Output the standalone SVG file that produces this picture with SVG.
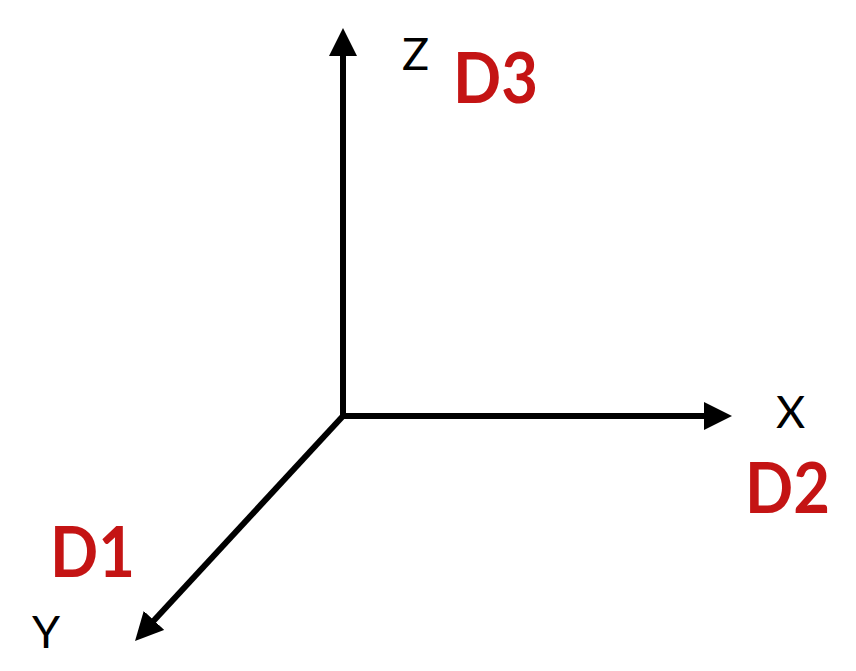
<svg xmlns="http://www.w3.org/2000/svg" width="856" height="671" viewBox="0 0 856 671">
<defs>
<style>
.axis{fill:none;stroke:#000;stroke-width:6}
.lbl{font-family:Lato,"Liberation Sans",sans-serif;font-size:45px;fill:#000}
.dim{font-family:Lato,"Liberation Sans",sans-serif;font-size:70px;font-weight:bold;fill:#c41414}
</style>
<marker id="arr" markerUnits="userSpaceOnUse" markerWidth="28" markerHeight="28" refX="8" refY="14" orient="auto-start-reverse" viewBox="0 0 28 28">
<path d="M0,0 L28,14 L0,28 z" fill="#000"/>
</marker>
</defs>
<rect width="856" height="671" fill="#fff"/>
<g id="connectors">
<path class="axis" d="M343,48 L343,416 L712,416" marker-start="url(#arr)" marker-end="url(#arr)"/>
<path class="axis" d="M343,416 L148.6,626.3" marker-end="url(#arr)"/>
</g>
<g id="z-label"><text class="lbl" x="402" y="70">Z</text></g>
<g id="d3-label"><text class="dim" x="453" y="103" textLength="85" lengthAdjust="spacingAndGlyphs">D3</text></g>
<g id="x-label"><text class="lbl" x="776" y="428">X</text></g>
<g id="d2-label"><text class="dim" x="745" y="513" textLength="85" lengthAdjust="spacingAndGlyphs">D2</text></g>
<g id="d1-label"><text class="dim" x="50" y="577" textLength="85" lengthAdjust="spacingAndGlyphs">D1</text></g>
<g id="y-label"><text class="lbl" x="32" y="648">Y</text></g>
</svg>
